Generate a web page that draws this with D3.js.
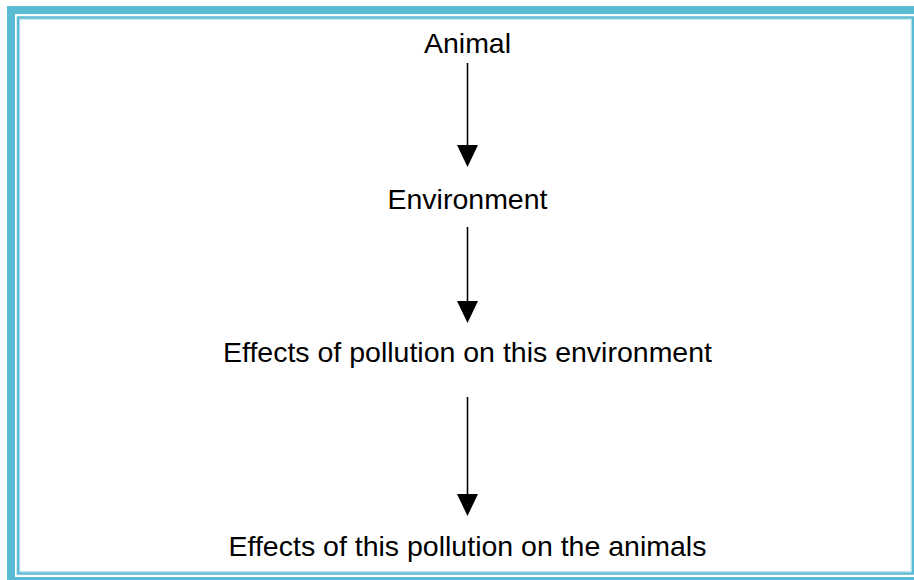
<!DOCTYPE html>
<html>
<head>
<meta charset="utf-8">
<script src="https://cdn.jsdelivr.net/npm/d3@7"></script>
<style>
  html, body { margin: 0; padding: 0; background: #fff; }
  svg { display: block; }
</style>
</head>
<body>
<svg id="chart" width="914" height="580"></svg>
<script>
// flow steps, top to bottom
const steps = [
    'Animal',
    'Environment',
    'Effects of pollution on this environment',
    'Effects of this pollution on the animals'
];
// arrows link step i to step i+1
const links = [
    { source: 0, target: 1 },
    { source: 1, target: 2 },
    { source: 2, target: 3 }
];

// layout
const width = 914, height = 580;
const centerX = 467.5;
const baselines = [53, 209, 362, 556];
const arrowStart = [63, 227, 397];
const arrowTip = [167, 323, 516];
const headW = 21, headH = 22;
const borderColor = '#5bbad4';

const svg = d3.select('#chart');

// double frame
svg.append('rect')
    .attr('x', 11).attr('y', 10)
    .attr('width', 909).attr('height', 571)
    .attr('fill', 'none')
    .attr('stroke', borderColor)
    .attr('stroke-width', 8);

svg.append('rect')
    .attr('x', 18).attr('y', 17.5)
    .attr('width', 895).attr('height', 556)
    .attr('fill', 'none')
    .attr('stroke', borderColor)
    .attr('stroke-width', 2.5);

svg.append('rect')
    .attr('x', 19.75).attr('y', 19.25)
    .attr('width', 891.5).attr('height', 552.5)
    .attr('fill', 'none')
    .attr('stroke', '#a6d9e7')
    .attr('stroke-width', 1);

// labels
svg.append('g')
    .selectAll('text')
    .data(steps)
    .join('text')
    .attr('x', centerX)
    .attr('y', (d, i) => baselines[i])
    .attr('text-anchor', 'middle')
    .attr('font-family', 'Arial, "Liberation Sans", sans-serif')
    .attr('font-size', 28.5)
    .attr('fill', '#000')
    .text(d => d);

// arrows
const arrows = svg.append('g')
    .selectAll('g')
    .data(links)
    .join('g');

arrows.append('line')
    .attr('x1', centerX).attr('x2', centerX)
    .attr('y1', (d, i) => arrowStart[i])
    .attr('y2', (d, i) => arrowTip[i] - headH + 1)
    .attr('stroke', '#000')
    .attr('stroke-width', 1.6);

arrows.append('path')
    .attr('d', (d, i) => {
        const tip = arrowTip[i];
        return `M${centerX - headW / 2},${tip - headH}L${centerX + headW / 2},${tip - headH}L${centerX},${tip}Z`;
    })
    .attr('fill', '#000');
</script>
</body>
</html>
